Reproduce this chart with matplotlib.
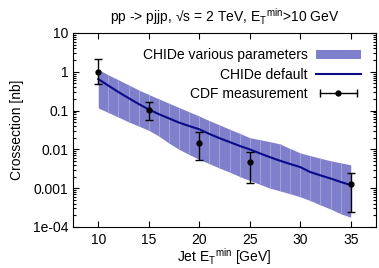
import matplotlib
matplotlib.use("Agg")
import matplotlib.pyplot as plt
from matplotlib.lines import Line2D
from matplotlib.patches import Patch
from matplotlib.legend_handler import HandlerLine2D, HandlerTuple
from matplotlib.ticker import LogLocator, NullFormatter

plt.rcParams['font.family'] = ['Liberation Sans', 'DejaVu Sans']
plt.rcParams['mathtext.fontset'] = 'custom'
plt.rcParams['mathtext.rm'] = 'Liberation Sans'
plt.rcParams['mathtext.it'] = 'Liberation Sans'

# CHIDe prediction, one value per GeV
et = list(range(10, 36))
chide_default = [0.65, 0.44, 0.30, 0.21, 0.148, 0.107, 0.081, 0.063, 0.049, 0.040,
                 0.033, 0.025, 0.0195, 0.0155, 0.0123, 0.0100, 0.0079, 0.0063, 0.0051,
                 0.0042, 0.0035, 0.0026, 0.00214, 0.00178, 0.00145, 0.0012]
band_hi = [1.15, 0.83, 0.62, 0.46, 0.34, 0.26, 0.20, 0.155, 0.12, 0.093,
           0.072, 0.055, 0.043, 0.033, 0.026, 0.020, 0.0178, 0.0158, 0.0138,
           0.0105, 0.0081, 0.0069, 0.0059, 0.0051, 0.0045, 0.0040]
band_lo = [0.117, 0.089, 0.068, 0.051, 0.040, 0.031, 0.022, 0.0145, 0.010, 0.0074,
           0.0055, 0.0043, 0.0033, 0.0026, 0.0020, 0.00158, 0.00126, 0.0010, 0.00085,
           0.00072, 0.0006, 0.00048, 0.00037, 0.00029, 0.00022, 0.000178]

# CDF data
cdf_et = [10, 15, 20, 25, 35]
cdf_xs = [0.97, 0.102, 0.0144, 0.0046, 0.00129]
cdf_up = [2.1, 0.17, 0.0286, 0.0085, 0.0024]
cdf_dn = [0.49, 0.057, 0.0053, 0.00135, 0.00024]

xticks = [10, 15, 20, 25, 30, 35]
yticks = [1e-4, 1e-3, 1e-2, 1e-1, 1, 10]
ylabels = ['1e-04', '0.001', '0.01', '0.1', '1', '10']

fig = plt.figure(figsize=(3.79, 2.68), dpi=100)
ax = fig.add_axes([0.1926, 0.153, 0.7994, 0.724])

band_col = '#7f7fcc'
ax.fill_between(et, band_lo, band_hi, color=band_col, lw=0)
ax.vlines(et[1:-1], band_lo[1:-1], band_hi[1:-1], color='#a6a6dd', lw=0.6)
ax.plot(et, chide_default, color='#0b0b8a', lw=1.5)

err_lo = [v - d for v, d in zip(cdf_xs, cdf_dn)]
err_hi = [u - v for v, u in zip(cdf_xs, cdf_up)]
ax.errorbar(cdf_et, cdf_xs, yerr=[err_lo, err_hi], fmt='o', color='black',
            ms=3.5, elinewidth=1, capsize=3, capthick=1)

ax.set_yscale('log')
ax.set_xlim(7.5, 37.5)
ax.set_ylim(1e-4, 10)
ax.set_xticks(xticks)
ax.set_yticks(yticks)
ax.set_yticklabels(ylabels)
ax.yaxis.set_minor_locator(LogLocator(base=10, subs=(2, 3, 4, 5, 6, 7, 8, 9)))
ax.yaxis.set_minor_formatter(NullFormatter())
ax.tick_params(which='both', direction='in', top=True, right=True, labelsize=10)
ax.tick_params(which='major', length=4, width=0.8)
ax.tick_params(which='minor', length=2, width=0.8)
ax.tick_params(axis='x', pad=4)

ax.set_xlabel('Jet E$_\\mathregular{T}$$^\\mathregular{min}$ [GeV]', fontsize=10, labelpad=0)
ax.set_ylabel('Crossection [nb]', fontsize=10, labelpad=6)
ax.set_title('pp -> pjjp, \u221as = 2 TeV, E$_\\mathregular{T}$$^\\mathregular{min}$>10 GeV',
             fontsize=10, pad=8)

h_band = Patch(facecolor=band_col, edgecolor='none')
h_line = Line2D([], [], color='#0b0b8a', lw=1.5)
h_bar = Line2D([], [], color='black', lw=1, marker='|', ms=6, mew=1)
h_dot = Line2D([], [], color='black', ls='none', marker='o', ms=3.5)
leg = ax.legend([h_band, h_line, (h_bar, h_dot)],
                ['CHIDe various parameters', 'CHIDe default', 'CDF measurement'],
                loc='upper right', frameon=False, markerfirst=False, fontsize=10,
                handlelength=3.2, labelspacing=0.4, borderaxespad=0.7,
                handletextpad=0.6,
                handler_map={h_bar: HandlerLine2D(numpoints=2),
                             h_dot: HandlerLine2D(numpoints=1),
                             tuple: HandlerTuple(ndivide=1, pad=0)})
for t in leg.get_texts():
    t.set_ha('right')

fig.savefig('out.png', dpi=100)
